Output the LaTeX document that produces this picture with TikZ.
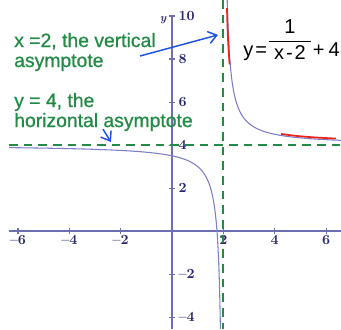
\documentclass[tikz,border=0pt]{standalone}
\usepackage{amsmath}
\usepackage{fontspec}
\newfontfamily\arial{Liberation Sans}
\newfontfamily\arialnote[FakeBold=0.8]{Liberation Sans}
\usetikzlibrary{arrows.meta,positioning}
\definecolor{asygreen}{RGB}{34,139,70}
\definecolor{axisblue}{RGB}{110,110,180}
\definecolor{curveblue}{RGB}{125,125,200}
\definecolor{tickblue}{RGB}{40,40,110}
\definecolor{arrowblue}{RGB}{30,80,225}
\definecolor{hlred}{RGB}{235,35,25}

\begin{document}
\begin{tikzpicture}[
  x=19.25pt, y=16.125pt,
  axis/.style={draw=axisblue, line width=1.1pt},
  asym/.style={draw=asygreen, line width=1.4pt, dash pattern=on 6.5pt off 4.5pt},
  curve/.style={draw=curveblue, line width=0.8pt},
  hl/.style={draw=hlred, line width=1.3pt},
  note/.style={text=asygreen, font=\arialnote\fontsize{14.5}{15}\selectfont, align=left, inner sep=0pt},
  tick/.style={text=tickblue, font=\bfseries\fontsize{10.5}{11}\selectfont, inner sep=1pt},
  arr/.style={draw=arrowblue, line width=1.1pt, -{Straight Barb[length=2.2mm,width=3.2mm]}}
]
\useasboundingbox (-6.70,-4.558) rectangle (6.58,10.744);
% axes
\draw[axis] (-6.35,0) -- (6.58,0);
\draw[axis] (0,10) -- (0,-4.558);
\foreach \x in {-6,-4,-2,2,4,6}
  \draw[axis, line width=0.8pt] (\x,-0.15) -- (\x,0.15)
    node[tick, anchor=north, yshift=-4pt] (xl\x) {\ifnum\x<0 --\the\numexpr-\x\relax\else\x\fi};
\foreach \y in {10,8,6,4,2,-2,-4}
  \draw[axis, line width=0.8pt] (-0.13,\y) -- (0.13,\y)
    node[tick, anchor=west, xshift=1pt] (yl\y) {\ifnum\y<0 --\the\numexpr-\y\relax\else\y\fi};
\node[text=tickblue, font=\bfseries\itshape\fontsize{8.5}{9}\selectfont, inner sep=0pt] (ylab) at (-0.35,9.8) {y};
% asymptotes
\draw[asym] (2,10.744) -- (2,-4.558);
\draw[asym] (-6.35,4) -- (6.58,4);
% y = 1/(x-2) + 4
\draw[curve] plot[domain=2.122:-2.147, samples=160, variable=\s] ({2-exp(\s)},{4-exp(-\s)});
\draw[curve] plot[domain=-1.909:1.522, samples=160, variable=\s] ({2+exp(\s)},{4+exp(-\s)});
\draw[hl] plot[smooth] coordinates {(2.14,10.37) (2.16,9.5) (2.19,8.7) (2.24,7.75)};
\draw[hl, yshift=1.2pt] plot[domain=4.25:6.39, samples=40] (\x,{4+1/(\x-2)});
% notes
\node[note, anchor=base west] (vnote) at (-6.155,7.628) {x =2, the vertical\\asymptote};
\node[note, anchor=base west] (hnote) at (-6.155,4.837) {y = 4, the\\horizontal asymptote};
\node[anchor=base west, inner sep=0pt, font=\arial\fontsize{15}{17}\selectfont] (eq) at (2.766,8.14)
  {y\kern1.5pt=\kern0.5pt\raisebox{7.5pt}{$\dfrac{\text{1}}{\makebox[31pt]{x\kern1.5pt-\kern1.5pt2}}$}\kern0.5pt+\kern3pt4};
\coordinate (vstart) at (-1.247,8.14);
\coordinate (vtip) at (1.79,9.12);
\coordinate (hstart) at (-2.69,4.74);
\coordinate (htip) at (-2.38,4.14);
\draw[arr] (vstart) -- (vtip);
\draw[arr] (hstart) -- (htip);
\end{tikzpicture}
\end{document}
